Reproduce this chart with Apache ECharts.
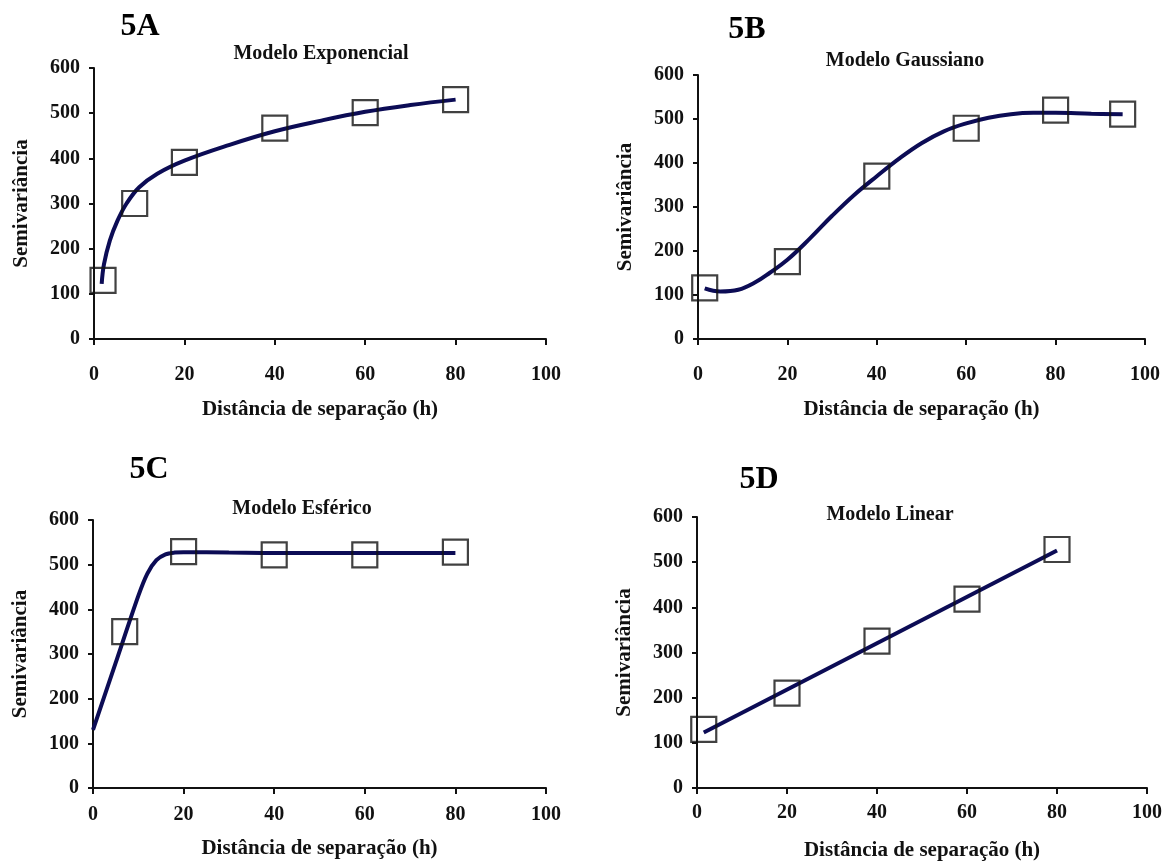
<!DOCTYPE html>
<html>
<head>
<meta charset="utf-8">
<script src="https://cdn.jsdelivr.net/npm/echarts@6/dist/echarts.min.js"></script>
<style>
  html, body { margin: 0; padding: 0; background: #fff; }
  #chart { width: 1175px; height: 864px; }
</style>
</head>
<body>
<div id="chart"></div>
<script>
// 5A - exponencial
const a_pts_x = [2, 9, 20, 40, 60, 80]
const a_pts_y = [130, 300, 391, 467, 501, 530]
const a_fit_x = [1.7, 2.2, 3.5, 5.2, 7.2, 10, 14, 20, 30, 40, 50, 60, 70, 80]
const a_fit_y = [122, 165, 218, 262, 300, 336, 366, 395, 430, 460, 483, 503, 518, 530]

// 5B - gaussiano
const b_pts_x = [1.5, 20, 40, 60, 80, 95]
const b_pts_y = [116, 176, 370, 479, 520, 511]
const b_fit_x = [1.5, 5, 9, 13, 16, 20, 25, 30, 35, 40, 45, 50, 55, 60, 65, 70, 75, 80, 88, 95]
const b_fit_y = [115, 108, 112, 130, 150, 180, 228, 280, 328, 370, 410, 445, 472, 490, 503, 511, 514, 514, 512, 511]

// 5C - esferico
const c_pts_x = [7, 20, 40, 60, 80]
const c_pts_y = [350, 529, 522, 522, 528]
const c_fit_x = [0, 5, 10, 12, 14, 16, 18, 20, 30, 45, 62, 80]
const c_fit_y = [130, 280, 430, 480, 510, 523, 527, 528, 527, 526, 526, 526]

// 5D - linear
const d_pts_x = [1.5, 20, 40, 60, 80]
const d_pts_y = [130, 210, 325, 418, 528]
const d_fit_x = [1.5, 80]
const d_fit_y = [123, 526]

const panels = ['5A', '5B', '5C', '5D']
const models = ['Modelo Exponencial', 'Modelo Gaussiano', 'Modelo Esférico', 'Modelo Linear']
const x_ticks = [0, 100, 20]
const y_ticks = [0, 600, 100]

const FONT = '"Liberation Serif", "Times New Roman", serif'
const LINE_COLOR = '#0c0c55'

function zip(xs, ys) {
  let out = []
  for (let i = 0; i < xs.length; i++) {
    out.push([xs[i], ys[i]])
  }
  return out
}

const grids = [
  {left: 94, top: 68, width: 452, height: 271, outerBoundsMode: 'none'},
  {left: 698, top: 75, width: 447, height: 264, outerBoundsMode: 'none'},
  {left: 93, top: 520, width: 453, height: 268, outerBoundsMode: 'none'},
  {left: 697, top: 517, width: 450, height: 271, outerBoundsMode: 'none'}
]

const labelPos = [[140, 27], [747, 30], [149, 470], [759, 480]]
const titlePos = [[321, 54], [905, 61], [302, 509], [890, 515]]
const smooth = [0.4, 0.4, 0.3, 0]
// distance of x tick labels / x name below the axis line (bottom row sits tighter)
const xLabelMargin = [26, 26, 17, 15]
const xNameGap = [60, 60, 50, 52]

const pts = [zip(a_pts_x, a_pts_y), zip(b_pts_x, b_pts_y), zip(c_pts_x, c_pts_y), zip(d_pts_x, d_pts_y)]
const fits = [zip(a_fit_x, a_fit_y), zip(b_fit_x, b_fit_y), zip(c_fit_x, c_fit_y), zip(d_fit_x, d_fit_y)]

let xAxis = []
let yAxis = []
let series = []
let graphic = []

for (let i = 0; i < 4; i++) {
  xAxis.push({
    type: 'value',
    gridIndex: i,
    min: x_ticks[0],
    max: x_ticks[1],
    interval: x_ticks[2],
    name: 'Distância de separação (h)',
    nameLocation: 'middle',
    nameGap: xNameGap[i],
    nameTextStyle: {fontFamily: FONT, fontWeight: 'bold', fontSize: 21, color: '#111'},
    splitLine: {show: false},
    axisLine: {show: true, lineStyle: {color: '#111', width: 2}},
    axisTick: {show: true, length: 6, lineStyle: {color: '#111', width: 2}},
    axisLabel: {fontFamily: FONT, fontWeight: 'bold', fontSize: 20, color: '#111', margin: xLabelMargin[i]}
  })
  yAxis.push({
    type: 'value',
    gridIndex: i,
    min: y_ticks[0],
    max: y_ticks[1],
    interval: y_ticks[2],
    name: 'Semivariância',
    nameLocation: 'middle',
    nameGap: 62,
    nameTextStyle: {fontFamily: FONT, fontWeight: 'bold', fontSize: 21, color: '#111'},
    splitLine: {show: false},
    axisLine: {show: true, lineStyle: {color: '#111', width: 2}},
    axisTick: {show: true, length: 5, lineStyle: {color: '#111', width: 2}},
    axisLabel: {fontFamily: FONT, fontWeight: 'bold', fontSize: 20, color: '#111', margin: 14}
  })
  series.push({
    type: 'line',
    xAxisIndex: i,
    yAxisIndex: i,
    data: fits[i],
    smooth: smooth[i],
    showSymbol: false,
    lineStyle: {color: LINE_COLOR, width: 4},
    z: 2
  })
  series.push({
    type: 'scatter',
    xAxisIndex: i,
    yAxisIndex: i,
    data: pts[i],
    symbol: 'rect',
    symbolSize: 25,
    itemStyle: {color: 'rgba(0,0,0,0)', borderColor: '#111', borderWidth: 2.2},
    z: 3
  })
  graphic.push({
    type: 'text',
    x: labelPos[i][0],
    y: labelPos[i][1],
    style: {
      text: panels[i], fontFamily: FONT, fontWeight: 'bold', fontSize: 32,
      fill: '#000', align: 'center', verticalAlign: 'middle'
    }
  })
  graphic.push({
    type: 'text',
    x: titlePos[i][0],
    y: titlePos[i][1],
    style: {
      text: models[i], fontFamily: FONT, fontWeight: 'bold', fontSize: 20,
      fill: '#111', align: 'center', verticalAlign: 'middle'
    }
  })
}

const option = {
  backgroundColor: '#fff',
  animation: false,
  grid: grids,
  xAxis: xAxis,
  yAxis: yAxis,
  series: series,
  graphic: graphic
}

const myChart = echarts.init(document.getElementById('chart'))
myChart.setOption(option)
</script>
</body>
</html>
